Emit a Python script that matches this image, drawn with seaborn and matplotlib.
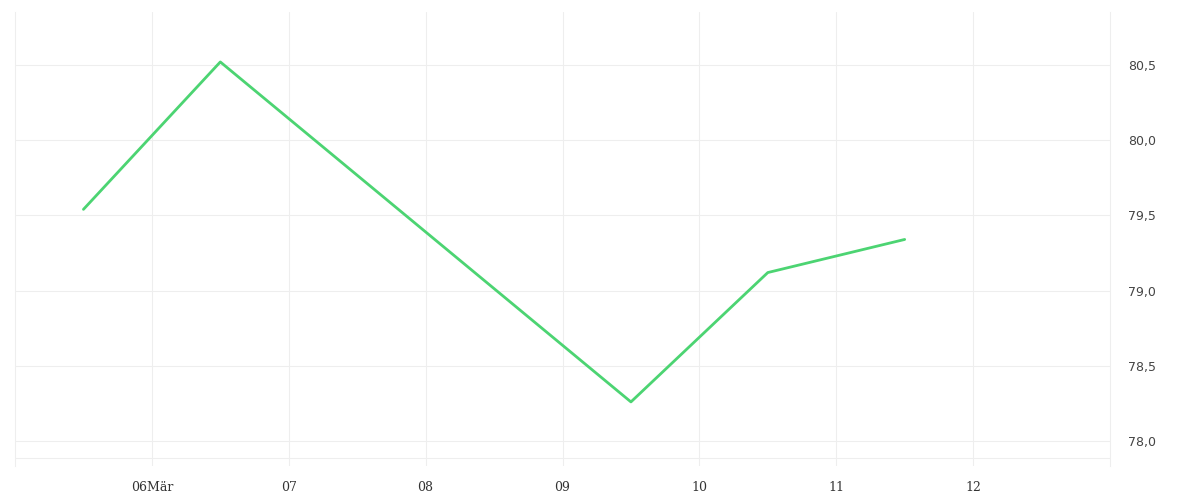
import pandas as pd
import numpy as np
import matplotlib.pyplot as plt
import matplotlib.dates as mdates
import seaborn as sns

# data
times = ['2024-03-05 12:00', '2024-03-06 12:00', '2024-03-09 12:00',
         '2024-03-10 12:00', '2024-03-11 12:00']
values = [79.54, 80.52, 78.26, 79.12, 79.34]

tick_days = ['2024-03-06', '2024-03-07', '2024-03-08', '2024-03-09',
             '2024-03-10', '2024-03-11', '2024-03-12']
tick_labels = ['06Mär', '07', '08', '09', '10', '11', '12']
y_ticks = [78.0, 78.5, 79.0, 79.5, 80.0, 80.5]

df = pd.DataFrame({'time': pd.to_datetime(times), 'value': values})

sns.set_style('white')
grid_col = '#eeeeee'

fig = plt.figure(figsize=(12, 5), dpi=100)
ax = fig.add_axes([15 / 1200, 1 - 466 / 500, 1095 / 1200, 454 / 500])

sns.lineplot(data=df, x='time', y='value', ax=ax, color='#4cd472', linewidth=2.0)

ax.set_xlim(pd.Timestamp('2024-03-05'), pd.Timestamp('2024-03-13'))
ax.set_ylim(77.834, 80.852)

ax.set_xticks(pd.to_datetime(tick_days))
ax.set_xticklabels(tick_labels, family='DejaVu Serif', fontsize=9, color='#333333')
ax.set_yticks(y_ticks)
ax.set_yticklabels([f'{v:.1f}'.replace('.', ',') for v in y_ticks],
                   family='DejaVu Sans', fontsize=9, color='#444444')

ax.yaxis.tick_right()
ax.tick_params(axis='x', length=0, pad=11)
ax.tick_params(axis='y', length=0, pad=13)

ax.grid(True, color=grid_col, linewidth=0.8)
for side in ['top', 'bottom']:
    ax.spines[side].set_visible(False)
for side in ['left', 'right']:
    ax.spines[side].set_color(grid_col)
    ax.spines[side].set_linewidth(0.8)

# bottom frame line slightly above the axes edge
ax.plot([0, 1], [8 / 454, 8 / 454], transform=ax.transAxes, color=grid_col, linewidth=0.8)

ax.set_xlabel('')
ax.set_ylabel('')

fig.savefig('out.png', dpi=100)
